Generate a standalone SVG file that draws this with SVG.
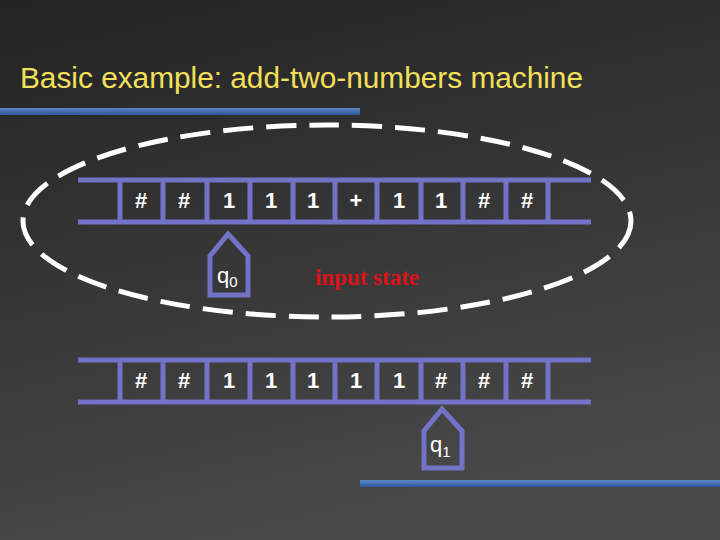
<svg xmlns="http://www.w3.org/2000/svg" width="720" height="540" viewBox="0 0 720 540">
<defs>
<linearGradient id="bg" x1="0" y1="0" x2="0.3" y2="1">
<stop offset="0" stop-color="#232323"/>
<stop offset="1" stop-color="#484848"/>
</linearGradient>
<linearGradient id="bar" x1="0" y1="0" x2="0" y2="1">
<stop offset="0" stop-color="#5a86c8"/>
<stop offset="1" stop-color="#2d5696"/>
</linearGradient>
<style>
.tape{stroke:#7272c6;stroke-width:5;fill:none}
.sym{font-family:"Liberation Sans",Arial,sans-serif;font-size:22px;font-weight:bold;fill:#ffffff;text-anchor:middle}
.q{font-family:"Liberation Sans",Arial,sans-serif;font-size:22px;fill:#ffffff}
.head{stroke:#7272c6;stroke-width:5;fill:none;stroke-linejoin:miter}
</style>
</defs>
<rect width="720" height="540" fill="url(#bg)"/>
<text x="20" y="88" font-family="'Liberation Sans',Arial,sans-serif" font-size="29" fill="#f3e05a" textLength="563" lengthAdjust="spacingAndGlyphs">Basic example: add-two-numbers machine</text>
<rect x="0" y="108" width="360" height="7" fill="url(#bar)"/>
<rect x="360" y="480" width="360" height="7" fill="url(#bar)"/>

<g id="ellipse">
<ellipse cx="327" cy="221" rx="304" ry="96" fill="none" stroke="#ffffff" stroke-width="5" stroke-dasharray="30 13"/>
</g>

<g id="tape1">
<line class="tape" x1="78" y1="180" x2="591" y2="180"/>
<line class="tape" x1="78" y1="222" x2="591" y2="222"/>
<path class="tape" d="M120 180V222M163 180V222M207 180V222M250 180V222M293 180V222M335 180V222M377 180V222M421 180V222M463 180V222M506 180V222M548 180V222"/>
<text class="sym" x="141" y="208">#</text>
<text class="sym" x="184" y="208">#</text>
<text class="sym" x="229" y="208">1</text>
<text class="sym" x="271" y="208">1</text>
<text class="sym" x="313" y="208">1</text>
<text class="sym" x="356" y="208">+</text>
<text class="sym" x="399" y="208">1</text>
<text class="sym" x="441" y="208">1</text>
<text class="sym" x="484" y="208">#</text>
<text class="sym" x="527" y="208">#</text>
</g>

<g id="head-q0">
<path class="head" d="M228 234L248 256V295H210V256Z"/>
<text class="q" x="217" y="283">q<tspan font-size="15" dy="4">0</tspan></text>
</g>

<g id="label-input">
<text x="367" y="285" font-family="'Liberation Serif','Times New Roman',serif" font-size="23" font-weight="bold" fill="#d8141a" text-anchor="middle">input state</text>
</g>

<g id="tape2">
<line class="tape" x1="78" y1="360" x2="591" y2="360"/>
<line class="tape" x1="78" y1="402" x2="591" y2="402"/>
<path class="tape" d="M120 360V402M163 360V402M207 360V402M250 360V402M293 360V402M335 360V402M377 360V402M421 360V402M463 360V402M506 360V402M548 360V402"/>
<text class="sym" x="141" y="388">#</text>
<text class="sym" x="184" y="388">#</text>
<text class="sym" x="229" y="388">1</text>
<text class="sym" x="271" y="388">1</text>
<text class="sym" x="313" y="388">1</text>
<text class="sym" x="356" y="388">1</text>
<text class="sym" x="399" y="388">1</text>
<text class="sym" x="441" y="388">#</text>
<text class="sym" x="484" y="388">#</text>
<text class="sym" x="527" y="388">#</text>
</g>

<g id="head-q1">
<path class="head" d="M442 409L462 431V468H424V431Z"/>
<text class="q" x="430" y="452">q<tspan font-size="15" dy="5">1</tspan></text>
</g>
</svg>
